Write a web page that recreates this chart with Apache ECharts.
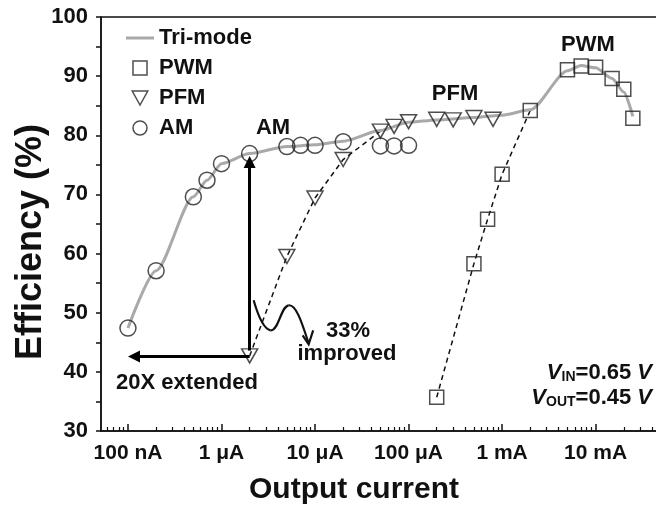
<!DOCTYPE html>
<html>
<head>
<meta charset="utf-8">
<script src="https://cdn.jsdelivr.net/npm/echarts@6/dist/echarts.min.js"></script>
<style>
  html, body { margin: 0; padding: 0; background: #fff; }
  #chart { width: 656px; height: 508px; }
</style>
</head>
<body>
<div id="chart"></div>
<script>
// output current in A, efficiency in %
const triCurrent = [1e-7, 2e-7, 5e-7, 7e-7, 1e-6, 2e-6, 5e-6, 1e-5, 2e-5, 5e-5, 1e-4, 2e-4, 5e-4, 1e-3, 2e-3, 5e-3, 7e-3, 1e-2, 1.5e-2, 2e-2, 2.5e-2]
const triEff = [47.4, 57.1, 69.6, 72.4, 75.2, 76.9, 78.1, 78.4, 79.0, 80.8, 82.2, 82.6, 83.0, 83.4, 84.3, 90.9, 91.8, 91.4, 89.6, 87.3, 83.2]

const pwmCurrent = [2e-4, 5e-4, 7e-4, 1e-3, 2e-3, 5e-3, 7e-3, 1e-2, 1.5e-2, 2e-2, 2.5e-2]
const pwmEff = [35.7, 58.3, 65.8, 73.4, 84.2, 91.1, 91.7, 91.5, 89.6, 87.8, 82.9]

const pfmCurrent = [2e-6, 5e-6, 1e-5, 2e-5, 5e-5, 7e-5, 1e-4, 2e-4, 3e-4, 5e-4, 8e-4]
const pfmEff = [42.7, 59.5, 69.4, 75.9, 80.7, 81.5, 82.3, 82.7, 82.6, 83.0, 82.7]

const amCurrent = [1e-7, 2e-7, 5e-7, 7e-7, 1e-6, 2e-6, 5e-6, 7e-6, 1e-5, 2e-5, 5e-5, 7e-5, 1e-4]
const amEff = [47.4, 57.1, 69.6, 72.4, 75.2, 76.9, 78.1, 78.3, 78.3, 78.9, 78.2, 78.2, 78.3]

// dashed links only run over the first points of each mode
const pfmLinkCount = 7
const pwmLinkCount = 5

const xTickValues = [1e-7, 1e-6, 1e-5, 1e-4, 1e-3, 1e-2]
const xTickLabels = ['100 nA', '1 μA', '10 μA', '100 μA', '1 mA', '10 mA']
const xMin = 5.15e-8
const xMax = 5e-2

// minor ticks 2..9 of each decade
const xMinorValues = []
for (let d = -8; d <= -2; d++) {
  for (let m = 2; m <= 9; m++) {
    const v = m * Math.pow(10, d)
    if (v > xMin && v < xMax) xMinorValues.push(v)
  }
}

const FONT = '"Liberation Sans", Arial, sans-serif'
const INK = '#111'
const GRAY = '#a9a9a9'
const triPath = 'path://M0,0L10,0L5,9Z'
const squarePath = 'path://M0,0L10,0L10,10L0,10Z'
const linePath = 'path://M0,0L28,0L28,3L0,3Z'
const hollow = { color: 'rgba(0,0,0,0)', borderColor: '#222', borderWidth: 1.5 }

const zip = (xs, ys, n) => xs.slice(0, n ?? xs.length).map((x, i) => [x, ys[i]])

const chart = echarts.init(document.getElementById('chart'))

const option = {
  animation: false,
  backgroundColor: '#fff',
  textStyle: { fontFamily: FONT },
  grid: {
    left: 101,
    right: -5,
    top: 17,
    bottom: 77,
    show: true,
    borderColor: INK,
    borderWidth: 1.5,
    outerBoundsMode: 'none',
  },
  legend: {
    orient: 'vertical',
    left: 121,
    top: 22,
    itemGap: 8,
    itemWidth: 28,
    itemHeight: 14,
    selectedMode: false,
    textStyle: { fontSize: 22, fontWeight: 'bold', color: INK, fontFamily: FONT },
    data: [
      { name: 'Tri-mode', icon: linePath, itemStyle: { color: GRAY, borderWidth: 0 } },
      { name: 'PWM', icon: squarePath, itemStyle: hollow },
      { name: 'PFM', icon: triPath, itemStyle: hollow },
      { name: 'AM', icon: 'circle', itemStyle: hollow },
    ],
  },
  xAxis: [
    {
      type: 'log',
      logBase: 10,
      min: xMin,
      max: xMax,
      axisLine: { lineStyle: { color: INK, width: 1.5 } },
      axisTick: { inside: true, length: 7, customValues: xTickValues, lineStyle: { color: INK, width: 1.5 } },
      axisLabel: {
        customValues: xTickValues,
        fontSize: 21,
        fontWeight: 'bold',
        color: INK,
        margin: 12,
        formatter: (v) => {
          const i = xTickValues.findIndex((t) => Math.abs(Math.log10(t) - Math.log10(v)) < 1e-6)
          return i < 0 ? '' : xTickLabels[i]
        },
      },
      splitLine: { show: false },
      minorTick: { show: false },
      name: 'Output current',
      nameLocation: 'middle',
      nameGap: 44,
      nameTextStyle: { fontSize: 30, fontWeight: 'bold', color: INK, padding: [0, 54, 0, 0] },
    },
    {
      type: 'log',
      logBase: 10,
      min: xMin,
      max: xMax,
      position: 'bottom',
      axisLine: { show: false },
      axisTick: { inside: true, length: 4, customValues: xMinorValues, lineStyle: { color: INK, width: 1.2 } },
      axisLabel: { show: false },
      splitLine: { show: false },
    },
  ],
  yAxis: {
    type: 'value',
    min: 30,
    max: 100,
    interval: 5,
    axisLine: { show: true, lineStyle: { color: INK, width: 1.5 } },
    axisTick: { show: true, length: 5, lineStyle: { color: INK, width: 1.5 } },
    axisLabel: {
      fontSize: 22,
      fontWeight: 'bold',
      color: INK,
      margin: 13,
      formatter: (v) => (v % 10 === 0 ? String(v) : ''),
    },
    splitLine: { show: false },
    name: 'Efficiency (%)',
    nameLocation: 'middle',
    nameRotate: 90,
    nameGap: 52,
    nameMoveOverlap: false,
    nameTextStyle: { fontSize: 36, fontWeight: 'bold', color: INK, padding: [0, 36, 0, 0] },
  },
  series: [
    {
      name: 'PFM link',
      type: 'line',
      data: zip(pfmCurrent, pfmEff, pfmLinkCount),
      showSymbol: false,
      lineStyle: { color: INK, width: 1.5, type: [5, 4] },
      z: 1,
      silent: true,
      markLine: {
        silent: true,
        symbol: ['none', 'triangle'],
        symbolSize: 12,
        label: { show: false },
        lineStyle: { color: '#000', width: 3, type: 'solid' },
        data: [
          [{ coord: [2e-6, 43.6] }, { coord: [2e-6, 75.5] }],
          [{ coord: [2e-6, 42.6] }, { coord: [1.16e-7, 42.6] }],
        ],
      },
    },
    {
      name: 'PWM link',
      type: 'line',
      data: zip(pwmCurrent, pwmEff, pwmLinkCount),
      showSymbol: false,
      lineStyle: { color: INK, width: 1.5, type: [5, 4] },
      z: 1,
      silent: true,
    },
    {
      name: 'Tri-mode',
      type: 'line',
      data: zip(triCurrent, triEff),
      symbol: 'none',
      smooth: 0.25,
      smoothMonotone: 'x',
      color: GRAY,
      lineStyle: { color: GRAY, width: 3 },
      z: 2,
    },
    {
      name: 'PWM',
      type: 'scatter',
      data: zip(pwmCurrent, pwmEff),
      symbol: 'rect',
      symbolSize: 14,
      itemStyle: hollow,
      z: 3,
    },
    {
      name: 'PFM',
      type: 'scatter',
      data: zip(pfmCurrent, pfmEff),
      symbol: triPath,
      symbolSize: [16, 14],
      itemStyle: hollow,
      z: 3,
    },
    {
      name: 'AM',
      type: 'scatter',
      data: zip(amCurrent, amEff),
      symbol: 'circle',
      symbolSize: 16,
      itemStyle: hollow,
      z: 3,
    },
  ],
}

chart.setOption(option)

// annotations
const bold22 = { fontSize: 22, fontWeight: 'bold', fontFamily: FONT, fill: INK }
const label = (text, x, y, align) => ({
  type: 'text',
  x,
  y,
  z: 10,
  style: Object.assign({ text, align: align || 'center', verticalAlign: 'middle' }, bold22),
})
const vRich = {
  i: { fontSize: 22, fontWeight: 'bold', fontStyle: 'italic', fontFamily: FONT, fill: INK, verticalAlign: 'bottom', lineHeight: 24 },
  n: { fontSize: 22, fontWeight: 'bold', fontFamily: FONT, fill: INK, verticalAlign: 'bottom', lineHeight: 24 },
  s: { fontSize: 14, fontWeight: 'bold', fontFamily: FONT, fill: INK, verticalAlign: 'bottom', lineHeight: 8 },
}
const wave = chart.convertToPixel({ xAxisIndex: 0, yAxisIndex: 0 }, [2e-6, 52.1])
const wx = wave[0] + 4
const wy = wave[1]
const waveStroke = { fill: 'none', stroke: INK, lineWidth: 2.2 }
const curve = (p) => ({
  type: 'bezierCurve',
  x: wx,
  y: wy,
  z: 10,
  shape: { x1: p[0], y1: p[1], cpx1: p[2], cpy1: p[3], cpx2: p[4], cpy2: p[5], x2: p[6], y2: p[7] },
  style: waveStroke,
})

chart.setOption({
  graphic: [
    label('AM', 273, 128),
    label('PFM', 455, 94),
    label('PWM', 588, 45),
    label('20X extended', 187, 383),
    label('33%', 348, 331),
    label('improved', 347, 354),
    {
      type: 'text', x: 652, y: 372, z: 10,
      style: { text: '{i|V}{s|IN}{n|=0.65 }{i|V}', rich: vRich, align: 'right', verticalAlign: 'middle' },
    },
    {
      type: 'text', x: 652, y: 397, z: 10,
      style: { text: '{i|V}{s|OUT}{n|=0.45 }{i|V}', rich: vRich, align: 'right', verticalAlign: 'middle' },
    },
    curve([0, 0, 4, 14, 10, 29, 17, 30]),
    curve([17, 30, 25, 31, 27, 6, 35, 5]),
    curve([35, 5, 43, 4, 49, 25, 55, 43]),
    {
      type: 'polyline', x: wx, y: wy, z: 10,
      shape: { points: [[49, 35], [55, 44], [59.5, 30]] },
      style: waveStroke,
    },
  ],
})
</script>
</body>
</html>
